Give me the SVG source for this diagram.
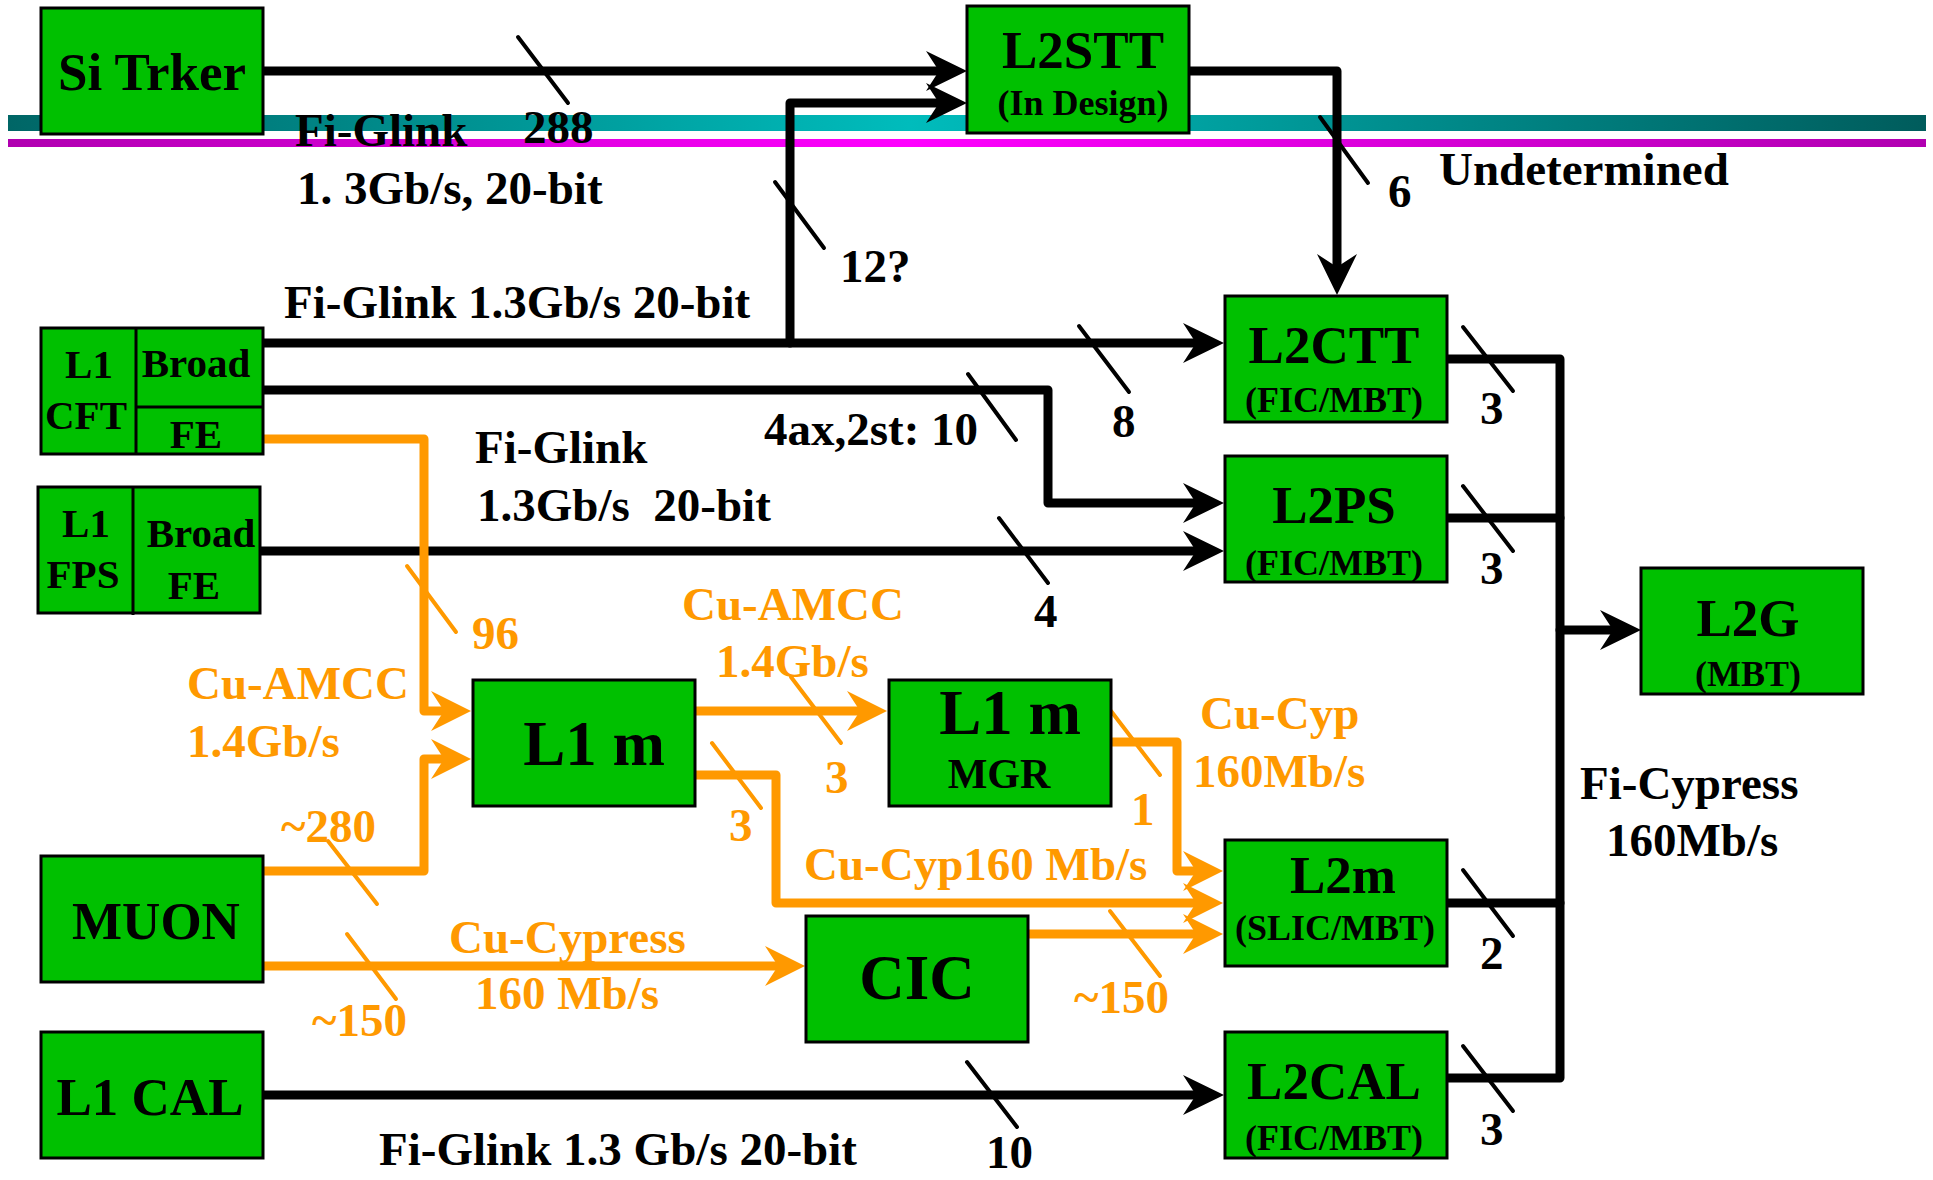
<svg xmlns="http://www.w3.org/2000/svg" width="1933" height="1180" viewBox="0 0 1933 1180">
<style>
.box{fill:#00c000;stroke:#000;stroke-width:3}
.t{font-family:"Liberation Serif","Times New Roman",serif;font-weight:bold;fill:#000}
.n{font-size:53px;text-anchor:middle}
.s{font-size:36px;text-anchor:middle}
.big{font-size:63px;text-anchor:middle}
.l{font-size:47px}
.o{fill:#ff9900}
.bl{fill:none;stroke:#000;stroke-width:9;stroke-linejoin:round;stroke-linecap:round}
.ol{fill:none;stroke:#ff9900;stroke-width:9;stroke-linejoin:round;stroke-linecap:round}
.tk{stroke:#000;stroke-width:4;stroke-linecap:round}
.tko{stroke:#ff9900;stroke-width:4;stroke-linecap:round}
.dv{stroke:#000;stroke-width:3}
</style>
<defs>
<linearGradient id="gTeal" x1="8" y1="0" x2="1926" y2="0" gradientUnits="userSpaceOnUse">
<stop offset="0" stop-color="#006666"/>
<stop offset="0.47" stop-color="#00bcbc"/>
<stop offset="1" stop-color="#005c5c"/>
</linearGradient>
<linearGradient id="gMag" x1="8" y1="0" x2="1926" y2="0" gradientUnits="userSpaceOnUse">
<stop offset="0" stop-color="#b000b0"/>
<stop offset="0.47" stop-color="#ff00ff"/>
<stop offset="1" stop-color="#b000b0"/>
</linearGradient>
<marker id="ab" markerUnits="userSpaceOnUse" markerWidth="70" markerHeight="70" viewBox="-35 -35 70 70" refX="0" refY="0" orient="auto" overflow="visible">
<path d="M20,0 L-21,-20 L-8,0 L-21,20 Z" fill="#000"/>
</marker>
<marker id="ao" markerUnits="userSpaceOnUse" markerWidth="70" markerHeight="70" viewBox="-35 -35 70 70" refX="0" refY="0" orient="auto" overflow="visible">
<path d="M20,0 L-20,-20 L-7,0 L-20,20 Z" fill="#ff9900"/>
</marker>
</defs>
<rect width="1933" height="1180" fill="#fff"/>
<!-- bands -->
<rect x="8" y="115" width="1918" height="16" fill="url(#gTeal)"/>
<rect x="8" y="139" width="1918" height="8" fill="url(#gMag)"/>

<g id="connectors">
<path class="bl" d="M263,71 H947" marker-end="url(#ab)"/>
<path class="bl" d="M790,343 V103 H947" marker-end="url(#ab)"/>
<path class="bl" d="M1189,71 H1337 V275" marker-end="url(#ab)"/>
<path class="bl" d="M263,343 H1204" marker-end="url(#ab)"/>
<path class="bl" d="M263,390 H1048 V503 H1204" marker-end="url(#ab)"/>
<path class="bl" d="M260,551 H1204" marker-end="url(#ab)"/>
<path class="bl" d="M263,1095 H1204" marker-end="url(#ab)"/>
<path class="bl" d="M1447,359 H1560 V1078 H1447"/>
<path class="bl" d="M1447,518 H1560"/>
<path class="bl" d="M1447,903 H1560"/>
<path class="bl" d="M1560,630 H1621" marker-end="url(#ab)"/>
<path class="ol" d="M263,439 H424 V711 H451" marker-end="url(#ao)"/>
<path class="ol" d="M263,871 H424 V759 H451" marker-end="url(#ao)"/>
<path class="ol" d="M695,711 H867" marker-end="url(#ao)"/>
<path class="ol" d="M695,775 H776 V903 H1203" marker-end="url(#ao)"/>
<path class="ol" d="M1111,742 H1177 V871 H1203" marker-end="url(#ao)"/>
<path class="ol" d="M263,966 H785" marker-end="url(#ao)"/>
<path class="ol" d="M1028,934 H1203" marker-end="url(#ao)"/>
<!-- ticks -->
<line class="tk" x1="518" y1="37" x2="568" y2="103"/>
<line class="tk" x1="1320" y1="117" x2="1368" y2="183"/>
<line class="tk" x1="775" y1="182" x2="824" y2="248"/>
<line class="tk" x1="1079" y1="326" x2="1129" y2="392"/>
<line class="tk" x1="968" y1="374" x2="1016" y2="440"/>
<line class="tk" x1="999" y1="518" x2="1048" y2="583"/>
<line class="tk" x1="1463" y1="327" x2="1513" y2="391"/>
<line class="tk" x1="1463" y1="486" x2="1513" y2="551"/>
<line class="tk" x1="1463" y1="870" x2="1513" y2="936"/>
<line class="tk" x1="1463" y1="1046" x2="1513" y2="1111"/>
<line class="tk" x1="967" y1="1062" x2="1017" y2="1127"/>
<line class="tko" x1="407" y1="566" x2="456" y2="632"/>
<line class="tko" x1="328" y1="841" x2="377" y2="904"/>
<line class="tko" x1="347" y1="934" x2="396" y2="999"/>
<line class="tko" x1="791" y1="677" x2="841" y2="743"/>
<line class="tko" x1="712" y1="743" x2="761" y2="808"/>
<line class="tko" x1="1111" y1="711" x2="1160" y2="775"/>
<line class="tko" x1="1110" y1="911" x2="1160" y2="976"/>
</g>

<g id="si-trker">
<rect class="box" x="41" y="8" width="222" height="126"/>
<text class="t n" x="152" y="90">Si Trker</text>
</g>
<g id="l2stt">
<rect class="box" x="967" y="6" width="222" height="127"/>
<text class="t n" x="1083" y="68">L2STT</text>
<text class="t s" x="1083" y="115">(In Design)</text>
</g>
<g id="l1cft">
<rect class="box" x="41" y="328" width="222" height="126"/>
<line class="dv" x1="136" y1="328" x2="136" y2="455"/>
<line class="dv" x1="136" y1="407" x2="264" y2="407"/>
<text class="t" font-size="41" text-anchor="middle" x="89" y="378">L1</text>
<text class="t" font-size="41" text-anchor="middle" x="86" y="429">CFT</text>
<text class="t" font-size="41" text-anchor="middle" x="196" y="377">Broad</text>
<text class="t" font-size="41" text-anchor="middle" x="196" y="448">FE</text>
</g>
<g id="l1fps">
<rect class="box" x="38" y="487" width="222" height="126"/>
<line class="dv" x1="133" y1="486" x2="133" y2="615"/>
<text class="t" font-size="41" text-anchor="middle" x="86" y="537">L1</text>
<text class="t" font-size="41" text-anchor="middle" x="83" y="588">FPS</text>
<text class="t" font-size="41" text-anchor="middle" x="201" y="547">Broad</text>
<text class="t" font-size="41" text-anchor="middle" x="194" y="599">FE</text>
</g>
<g id="l2ctt">
<rect class="box" x="1225" y="296" width="222" height="126"/>
<text class="t n" x="1334" y="363">L2CTT</text>
<text class="t s" x="1334" y="412">(FIC/MBT)</text>
</g>
<g id="l2ps">
<rect class="box" x="1225" y="456" width="222" height="126"/>
<text class="t n" x="1334" y="523">L2PS</text>
<text class="t s" x="1334" y="575">(FIC/MBT)</text>
</g>
<g id="l2g">
<rect class="box" x="1641" y="568" width="222" height="126"/>
<text class="t n" x="1748" y="636">L2G</text>
<text class="t s" x="1748" y="686">(MBT)</text>
</g>
<g id="l1m">
<rect class="box" x="473" y="680" width="222" height="126"/>
<text class="t big" x="594" y="765">L1 m</text>
</g>
<g id="l1m-mgr">
<rect class="box" x="889" y="680" width="222" height="126"/>
<text class="t big" x="1010" y="734">L1 m</text>
<text class="t" font-size="42" text-anchor="middle" x="999" y="788">MGR</text>
</g>
<g id="l2m">
<rect class="box" x="1225" y="840" width="222" height="126"/>
<text class="t n" x="1343" y="893">L2m</text>
<text class="t s" x="1335" y="940">(SLIC/MBT)</text>
</g>
<g id="muon">
<rect class="box" x="41" y="856" width="222" height="126"/>
<text class="t n" x="156" y="939">MUON</text>
</g>
<g id="cic">
<rect class="box" x="806" y="916" width="222" height="126"/>
<text class="t big" x="917" y="999">CIC</text>
</g>
<g id="l1cal">
<rect class="box" x="41" y="1032" width="222" height="126"/>
<text class="t n" x="150" y="1115">L1 CAL</text>
</g>
<g id="l2cal">
<rect class="box" x="1225" y="1032" width="222" height="126"/>
<text class="t n" x="1334" y="1099">L2CAL</text>
<text class="t s" x="1334" y="1150">(FIC/MBT)</text>
</g>

<g id="labels">
<text class="t l" x="295" y="146">Fi-Glink</text>
<text class="t l" x="523" y="143">288</text>
<text class="t l" x="297" y="204">1. 3Gb/s, 20-bit</text>
<text class="t l" x="840" y="282">12?</text>
<text class="t l" x="1388" y="207">6</text>
<text class="t l" x="1439" y="185">Undetermined</text>
<text class="t l" x="284" y="318">Fi-Glink 1.3Gb/s 20-bit</text>
<text class="t l" x="764" y="445">4ax,2st: 10</text>
<text class="t l" x="1112" y="437">8</text>
<text class="t l" x="475" y="463">Fi-Glink</text>
<text class="t l" x="477" y="521" style="white-space:pre">1.3Gb/s  20-bit</text>
<text class="t l" x="1034" y="627">4</text>
<text class="t l" x="1480" y="424">3</text>
<text class="t l" x="1480" y="584">3</text>
<text class="t l" x="1480" y="969">2</text>
<text class="t l" x="1480" y="1145">3</text>
<text class="t l" x="986" y="1168">10</text>
<text class="t l" x="379" y="1165">Fi-Glink 1.3 Gb/s 20-bit</text>
<text class="t l" x="1580" y="799">Fi-Cypress</text>
<text class="t l" x="1606" y="856">160Mb/s</text>
<text class="t l o" x="472" y="649">96</text>
<text class="t l o" x="187" y="699">Cu-AMCC</text>
<text class="t l o" x="187" y="757">1.4Gb/s</text>
<text class="t l o" x="281" y="842">~280</text>
<text class="t l o" x="312" y="1036">~150</text>
<text class="t l o" x="449" y="953">Cu-Cypress</text>
<text class="t l o" x="475" y="1009">160 Mb/s</text>
<text class="t l o" x="682" y="620">Cu-AMCC</text>
<text class="t l o" x="716" y="677">1.4Gb/s</text>
<text class="t l o" x="825" y="793">3</text>
<text class="t l o" x="729" y="841">3</text>
<text class="t l o" x="1200" y="729">Cu-Cyp</text>
<text class="t l o" x="1193" y="787">160Mb/s</text>
<text class="t l o" x="1131" y="825">1</text>
<text class="t l o" x="804" y="880">Cu-Cyp160 Mb/s</text>
<text class="t l o" x="1074" y="1013">~150</text>
</g>
</svg>
